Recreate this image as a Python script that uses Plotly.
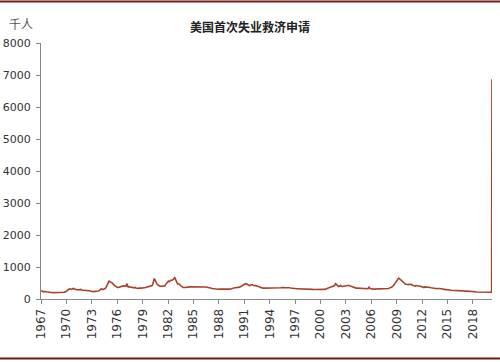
import pandas as pd
import plotly.graph_objects as go

# Monthly averages of initial jobless claims (thousands), Jan..Dec per year
claims_by_year = {
    1967: [270, 240, 230, 235, 240, 235, 230, 225, 220, 215, 210, 210],
    1968: [205, 200, 200, 195, 195, 195, 200, 200, 195, 190, 190, 190],
    1969: [190, 195, 195, 195, 200, 200, 200, 205, 210, 215, 220, 230],
    1970: [250, 270, 285, 310, 320, 310, 300, 300, 320, 340, 330, 310],
    1971: [290, 290, 295, 300, 290, 285, 290, 300, 300, 280, 280, 275],
    1972: [270, 270, 265, 260, 265, 270, 275, 260, 255, 255, 250, 250],
    1973: [235, 230, 230, 235, 235, 235, 240, 245, 245, 250, 260, 290],
    1974: [310, 320, 300, 290, 300, 310, 320, 340, 380, 420, 480, 530],
    1975: [560, 540, 540, 520, 510, 480, 450, 430, 420, 400, 380, 370],
    1976: [360, 360, 370, 380, 380, 390, 400, 410, 410, 410, 400, 390],
    1977: [400, 480, 390, 380, 380, 380, 380, 375, 370, 370, 360, 350],
    1978: [360, 360, 340, 330, 330, 330, 340, 335, 330, 330, 340, 345],
    1979: [345, 345, 340, 350, 360, 370, 375, 390, 400, 400, 410, 420],
    1980: [420, 420, 470, 560, 640, 600, 540, 480, 460, 440, 420, 410],
    1981: [400, 400, 400, 400, 410, 400, 400, 410, 450, 480, 520, 530],
    1982: [560, 540, 560, 580, 590, 580, 590, 610, 640, 680, 620, 560],
    1983: [500, 470, 480, 470, 460, 420, 400, 390, 380, 360, 360, 360],
    1984: [350, 350, 360, 360, 365, 370, 380, 380, 385, 390, 390, 385],
    1985: [380, 380, 385, 390, 395, 385, 385, 380, 380, 375, 380, 380],
    1986: [375, 380, 380, 375, 375, 380, 375, 370, 360, 355, 350, 345],
    1987: [340, 335, 330, 325, 320, 320, 320, 310, 300, 295, 305, 305],
    1988: [310, 310, 300, 300, 300, 305, 300, 300, 300, 290, 290, 295],
    1989: [300, 300, 300, 310, 315, 325, 330, 340, 340, 350, 350, 350],
    1990: [350, 355, 350, 360, 365, 370, 380, 390, 400, 420, 440, 450],
    1991: [460, 480, 480, 470, 450, 430, 420, 420, 430, 440, 450, 450],
    1992: [430, 430, 420, 410, 410, 410, 400, 400, 390, 380, 370, 360],
    1993: [340, 345, 340, 340, 340, 340, 340, 335, 330, 330, 330, 330],
    1994: [340, 340, 340, 345, 345, 340, 340, 335, 330, 330, 330, 330],
    1995: [330, 340, 345, 350, 355, 360, 365, 360, 355, 350, 350, 350],
    1996: [360, 370, 360, 355, 350, 345, 340, 335, 330, 330, 330, 335],
    1997: [330, 325, 320, 320, 320, 320, 315, 315, 315, 315, 315, 320],
    1998: [315, 315, 315, 310, 310, 315, 320, 315, 310, 305, 300, 300],
    1999: [300, 295, 295, 295, 290, 290, 290, 290, 290, 290, 285, 285],
    2000: [285, 285, 280, 280, 285, 290, 300, 310, 320, 330, 340, 350],
    2001: [360, 380, 390, 400, 410, 400, 400, 410, 440, 480, 450, 420],
    2002: [400, 390, 400, 410, 420, 400, 390, 390, 400, 400, 400, 400],
    2003: [400, 410, 420, 430, 420, 420, 410, 400, 390, 380, 370, 360],
    2004: [350, 350, 340, 340, 340, 340, 340, 340, 340, 340, 335, 330],
    2005: [330, 325, 320, 320, 320, 320, 320, 320, 380, 340, 320, 320],
    2006: [310, 310, 310, 310, 310, 310, 310, 310, 310, 315, 315, 320],
    2007: [320, 320, 320, 320, 310, 310, 310, 310, 315, 320, 325, 330],
    2008: [330, 340, 360, 370, 370, 380, 390, 420, 450, 480, 510, 540],
    2009: [580, 620, 650, 640, 620, 600, 570, 550, 540, 520, 490, 470],
    2010: [460, 460, 450, 450, 450, 460, 460, 470, 460, 450, 430, 420],
    2011: [420, 410, 400, 420, 420, 410, 410, 410, 410, 400, 390, 380],
    2012: [370, 360, 360, 380, 380, 380, 370, 370, 370, 360, 380, 360],
    2013: [350, 350, 340, 340, 340, 340, 340, 330, 320, 330, 330, 330],
    2014: [330, 330, 320, 310, 310, 310, 300, 300, 295, 285, 290, 290],
    2015: [290, 290, 285, 280, 275, 275, 275, 275, 270, 265, 270, 275],
    2016: [275, 265, 260, 255, 260, 265, 260, 260, 255, 255, 250, 255],
    2017: [250, 245, 245, 245, 240, 240, 245, 240, 245, 235, 240, 235],
    2018: [230, 225, 225, 225, 220, 220, 215, 210, 210, 210, 220, 220],
    2019: [215, 220, 220, 210, 215, 220, 215, 215, 215, 215, 220, 220],
}

# Weekly values for early 2020 (thousands)
weeks_2020 = ["2020-01-04", "2020-01-11", "2020-01-18", "2020-01-25", "2020-02-01",
              "2020-02-08", "2020-02-15", "2020-02-22", "2020-02-29", "2020-03-07",
              "2020-03-14", "2020-03-21", "2020-03-28"]
claims_2020 = [212, 207, 220, 214, 203, 204, 215, 220, 217, 211, 282, 3307, 6867]

tick_years = list(range(1967, 2019, 3))
y_ticks = [0, 1000, 2000, 3000, 4000, 5000, 6000, 7000, 8000]

dates = []
values = []
for yr, vals in claims_by_year.items():
    for m, v in enumerate(vals, start=1):
        dates.append(pd.Timestamp(year=yr, month=m, day=1) if (yr == 1967 and m == 1)
                     else pd.Timestamp(year=yr, month=m, day=15))
        values.append(v)
dates += [pd.Timestamp(d) for d in weeks_2020]
values += claims_2020

fig = go.Figure()
fig.add_trace(go.Scatter(x=dates, y=values, mode="lines",
                         line=dict(color="#A8432A", width=1.6), showlegend=False))

L, R, T, B = 41, 8, 43, 63
W, H = 500, 362
pw, ph = W - L - R, H - T - B

def px_to_paper_x(px):
    return (px - L) / pw

def px_to_paper_y(py):
    return (H - B - py) / ph

fig.update_layout(
    width=W, height=H,
    margin=dict(l=L, r=R, t=T, b=B, autoexpand=False),
    plot_bgcolor="white", paper_bgcolor="white",
    font=dict(family="DejaVu Sans", color="#333333"),
    xaxis=dict(
        type="date",
        range=["1967-01-01", "2020-03-31"],
        tickvals=[pd.Timestamp(year=y, month=1, day=1) for y in tick_years],
        ticktext=[str(y) for y in tick_years],
        tickangle=-90,
        tickfont=dict(size=12, color="#333333"),
        ticks="outside", ticklen=4, tickcolor="#888888",
        showline=True, linecolor="#888888", linewidth=1,
        showgrid=False, zeroline=False, automargin=False,
    ),
    yaxis=dict(
        range=[0, 8000],
        tickvals=y_ticks,
        ticktext=[str(v) for v in y_ticks],
        tickfont=dict(size=11, color="#333333"),
        ticks="outside", ticklen=4, tickcolor="#888888",
        ticklabelstandoff=3,
        showline=True, linecolor="#888888", linewidth=1,
        showgrid=False, zeroline=False, automargin=False,
    ),
    annotations=[
        dict(text="<b>美国首次失业救济申请</b>", xref="paper", yref="paper",
             x=px_to_paper_x(250), y=px_to_paper_y(26), xanchor="center", yanchor="middle",
             showarrow=False, font=dict(family="Noto Sans CJK SC", size=12, color="#222222")),
        dict(text="千人", xref="paper", yref="paper",
             x=px_to_paper_x(7), y=px_to_paper_y(23), xanchor="left", yanchor="middle",
             showarrow=False, font=dict(family="Noto Sans CJK SC", size=12, color="#555555")),
    ],
    shapes=[
        dict(type="line", xref="paper", yref="paper",
             x0=px_to_paper_x(0), x1=px_to_paper_x(500),
             y0=px_to_paper_y(1.5), y1=px_to_paper_y(1.5),
             line=dict(color="#7A1A16", width=2)),
        dict(type="line", xref="paper", yref="paper",
             x0=px_to_paper_x(0), x1=px_to_paper_x(500),
             y0=px_to_paper_y(358.5), y1=px_to_paper_y(358.5),
             line=dict(color="#6B1A14", width=2)),
    ],
)

fig.write_html("out.html",
               config={"displayModeBar": False},
               post_script="document.body.style.margin='0';document.body.style.overflow='hidden';")
